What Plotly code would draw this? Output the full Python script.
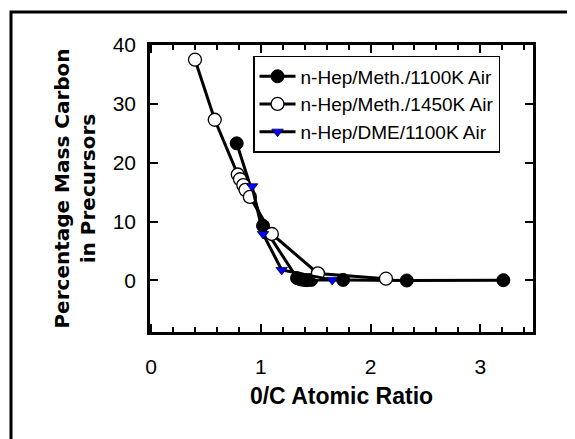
import plotly.graph_objects as go

# ---- data ----
x_meth_1100 = [0.78, 1.02, 1.33, 1.36, 1.39, 1.42, 1.46, 1.75, 2.33, 3.21]
y_meth_1100 = [23.3, 9.3, 0.4, 0.2, 0.1, 0.05, 0.1, 0.1, 0.0, 0.05]

x_meth_1450 = [0.40, 0.58, 0.79, 0.81, 0.84, 0.86, 0.90, 1.10, 1.52, 2.14]
y_meth_1450 = [37.5, 27.3, 18.0, 17.2, 16.2, 15.4, 14.2, 7.9, 1.2, 0.3]

x_dme_1100 = [0.92, 1.02, 1.19, 1.65]
y_dme_1100 = [16.0, 7.9, 1.8, 0.1]

series_names = ["n-Hep/Meth./1100K Air", "n-Hep/Meth./1450K Air", "n-Hep/DME/1100K Air"]
x_ticks = [0, 1, 2, 3]
y_ticks = [0, 10, 20, 30, 40]
x_title = "0/C Atomic Ratio"
y_title = "Percentage Mass Carbon<br>in Precursors"

FONT = "Liberation Sans, Arial, sans-serif"

fig = go.Figure()
fig.add_trace(go.Scatter(
    x=x_meth_1100, y=y_meth_1100, name=series_names[0], mode="lines+markers",
    line=dict(color="black", width=3),
    marker=dict(symbol="circle", size=13, color="black", line=dict(color="black", width=1)),
))
fig.add_trace(go.Scatter(
    x=x_meth_1450, y=y_meth_1450, name=series_names[1], mode="lines+markers",
    line=dict(color="black", width=3),
    marker=dict(symbol="circle", size=13, color="white", line=dict(color="black", width=1.3)),
))
fig.add_trace(go.Scatter(
    x=x_dme_1100, y=y_dme_1100, name=series_names[2], mode="lines+markers",
    line=dict(color="black", width=3),
    marker=dict(symbol="triangle-down", size=10, color="#0000ff", line=dict(color="#000033", width=0.8)),
))

axis_common = dict(
    showline=True, linecolor="black", linewidth=2.5, mirror="ticks",
    ticks="inside", tickcolor="black", tickwidth=2, ticklen=8,
    showgrid=False, zeroline=False,
    tickfont=dict(family=FONT, size=21, color="black"),
)

fig.update_xaxes(
    range=[-0.01, 3.48], tickvals=x_ticks, ticklabelstandoff=14,
    minor=dict(dtick=0.2, ticks="inside", ticklen=5, tickwidth=1.5, tickcolor="black", showgrid=False),
    title=dict(text=x_title, font=dict(family=FONT, size=23, color="black", weight="bold"), standoff=11),
    **axis_common,
)
fig.update_yaxes(
    range=[-8.75, 40], tickvals=y_ticks, ticklabelstandoff=7,
    title=dict(text=y_title, font=dict(family="DejaVu Sans, sans-serif", size=20, color="black", weight="bold"), standoff=12),
    **axis_common,
)

fig.update_layout(
    width=575, height=439,
    margin=dict(l=142, r=50, t=37, b=115),
    paper_bgcolor="white", plot_bgcolor="white",
    legend=dict(
        x=0.269, y=0.962, xanchor="left", yanchor="top",
        bgcolor="white", bordercolor="black", borderwidth=1.5,
        font=dict(family=FONT, size=19, color="black"),
        tracegroupgap=0, itemwidth=36,
    ),
    shapes=[dict(
        type="rect", xref="paper", yref="paper",
        x0=(3 - 142) / 383, x1=1.3, y0=-0.6, y1=(324 - 4) / 287,
        line=dict(color="black", width=3), fillcolor="rgba(0,0,0,0)", layer="below",
    )],
)

fig.write_html("out.html")
